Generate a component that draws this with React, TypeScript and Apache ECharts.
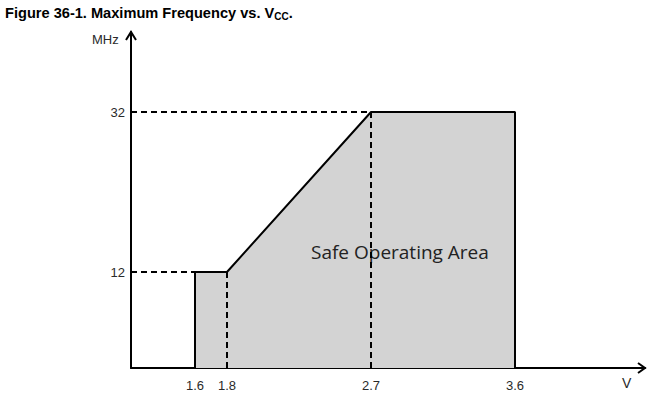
import React, { useEffect, useRef } from "react";
import * as echarts from "echarts";

const xTicks = [1.6, 1.8, 2.7, 3.6];
const yTicks = [12, 32];
const safeArea: [number, number][] = [
  [1.6, 0],
  [1.6, 12],
  [1.8, 12],
  [2.7, 32],
  [3.6, 32],
  [3.6, 0],
];
const dash12H: [number, number][] = [[1.2, 12], [1.6, 12]];
const dash18V: [number, number][] = [[1.8, 12], [1.8, 0]];
const dash32H: [number, number][] = [[1.2, 32], [2.7, 32]];
const dash27V: [number, number][] = [[2.7, 32], [2.7, 0]];

export default function App() {
  const ref = useRef<HTMLDivElement>(null);
  useEffect(() => {
    const chart = echarts.init(ref.current!, undefined, { renderer: "svg" });
    const dashed = (data: [number, number][]) => ({
      type: "line",
      data,
      symbol: "none",
      z: 10,
      lineStyle: { color: "#000", width: 2, type: [6, 4] },
      silent: true,
    });
    chart.setOption({
      animation: false,
      backgroundColor: "#fff",
      grid: { left: 131, right: 6, top: 32, bottom: 28 },
      xAxis: {
        type: "value",
        min: 1.2,
        max: 4.4125,
        splitLine: { show: false },
        axisLine: { show: true, onZero: false, lineStyle: { color: "#000", width: 2 } },
        axisTick: { show: false },
        axisLabel: {
          customValues: xTicks,
          color: "#2a2a2a",
          fontFamily: "Arial, Liberation Sans",
          fontSize: 13,
          margin: 11,
        },
      },
      yAxis: {
        type: "value",
        min: 0,
        max: 42,
        splitLine: { show: false },
        axisLine: { show: true, lineStyle: { color: "#000", width: 2 } },
        axisTick: { show: false },
        axisLabel: {
          customValues: yTicks,
          color: "#2a2a2a",
          fontFamily: "Arial, Liberation Sans",
          fontSize: 13,
          margin: 6,
        },
      },
      graphic: [
        {
          type: "text",
          left: 5,
          top: 4,
          style: {
            text: "{b|Figure 36-1. Maximum Frequency vs. V}{s|CC}{b|.}",
            rich: {
              b: { fontFamily: "Arial, Liberation Sans", fontWeight: "bold", fontSize: 14.6, fill: "#000", lineHeight: 18 },
              s: { fontFamily: "Arial, Liberation Sans", fontWeight: "bold", fontSize: 10, fill: "#000", padding: [7, 0, 0, 0], lineHeight: 18 },
            },
          },
        },
        {
          type: "text",
          left: 92,
          top: 33,
          style: { text: "MHz", font: "13px Arial, Liberation Sans", fill: "#2a2a2a" },
        },
        {
          type: "text",
          left: 622,
          top: 376,
          style: { text: "V", font: "14px Arial, Liberation Sans", fill: "#2a2a2a" },
        },
        {
          type: "polyline",
          shape: { points: [[126, 40], [131, 32], [136, 40]] },
          style: { stroke: "#000", lineWidth: 2, fill: null },
        },
        {
          type: "polyline",
          shape: { points: [[638, 363], [645, 368], [638, 373]] },
          style: { stroke: "#000", lineWidth: 2, fill: null },
        },
        {
          type: "text",
          left: 311,
          top: 242,
          z: 5,
          style: { text: "Safe Operating Area", font: "19px 'Open Sans'", fill: "#222" },
        },
      ],
      series: [
        {
          type: "line",
          data: safeArea,
          symbol: "none",
          z: 2,
          lineStyle: { color: "#000", width: 2 },
          areaStyle: { color: "#d3d3d3", opacity: 1, origin: "start" },
          silent: true,
        },
        dashed(dash12H),
        dashed(dash18V),
        dashed(dash32H),
        dashed(dash27V),
      ],
    });
    return () => chart.dispose();
  }, []);
  return <div ref={ref} style={{ width: 651, height: 396, position: "absolute", left: 0, top: 0 }} />;
}
